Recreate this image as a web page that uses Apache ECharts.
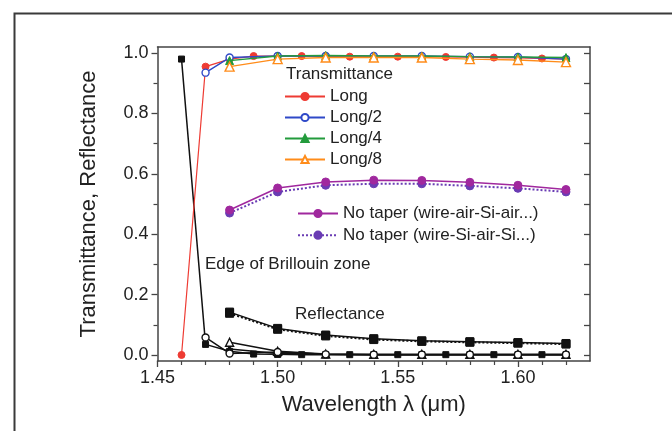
<!DOCTYPE html>
<html>
<head>
<meta charset="utf-8">
<script src="https://cdn.jsdelivr.net/npm/echarts@6/dist/echarts.min.js"></script>
<style>
html,body{margin:0;padding:0;background:#fff;}
#c{width:672px;height:431px;}
</style>
</head>
<body>
<div id="c"></div>
<script>
// ---- data ----
const wlAll = [1.46,1.47,1.48,1.49,1.50,1.51,1.52,1.53,1.54,1.55,1.56,1.57,1.58,1.59,1.60,1.61,1.62];
const wlLong2 = [1.47,1.48,1.50,1.52,1.54,1.56,1.58,1.60,1.62];
const wlEven = [1.48,1.50,1.52,1.54,1.56,1.58,1.60,1.62];

const tLong   = [0.0,0.955,0.98,0.99,0.99,0.99,0.99,0.988,0.988,0.988,0.988,0.987,0.986,0.985,0.984,0.982,0.98];
const tLong2  = [0.935,0.985,0.99,0.99,0.99,0.99,0.988,0.987,0.98];
const tLong4  = [0.975,0.99,0.992,0.99,0.99,0.988,0.987,0.985];
const tLong8  = [0.955,0.98,0.985,0.985,0.985,0.98,0.977,0.97];
const tNoTaperA = [0.48,0.553,0.573,0.579,0.578,0.572,0.562,0.548];
const tNoTaperB = [0.47,0.54,0.562,0.567,0.567,0.56,0.552,0.54];

const rLong   = [0.98,0.035,0.012,0.003,0.002,0.001,0.001,0.001,0.001,0.001,0.001,0.001,0.001,0.001,0.001,0.001,0.001];
const rLong2  = [0.058,0.005,0.01,0.002,0.001,0.001,0.001,0.001,0.001];
const rLong4  = [0.02,0.005,0.002,0.001,0.001,0.001,0.001,0.001];
const rLong8  = [0.042,0.012,0.003,0.002,0.002,0.002,0.002,0.002];
const rNoTaperA = [0.142,0.088,0.066,0.054,0.047,0.044,0.041,0.038];
const rNoTaperB = [0.138,0.085,0.063,0.051,0.045,0.042,0.039,0.036];

const xMajor = [1.45,1.50,1.55,1.60];
const xMinor = [1.46,1.47,1.48,1.49,1.51,1.52,1.53,1.54,1.56,1.57,1.58,1.59,1.61,1.62];
const yMajor = [0,0.2,0.4,0.6,0.8,1.0];
const yMinor = [0.1,0.3,0.5,0.7,0.9];
const yAll = [0,0.1,0.2,0.3,0.4,0.5,0.6,0.7,0.8,0.9,1.0];

const legend1 = ['Long','Long/2','Long/4','Long/8'];
const legend2 = ['No taper (wire-air-Si-air...)','No taper (wire-Si-air-Si...)'];

// ---- helpers ----
const pair = (xs, ys) => xs.map((x,i)=>[x, ys[i]]);
const FONT = 'Liberation Sans';
const AX = '#444';

function line(name, xs, ys, color, symbol, open, size, dash, width, z){
  return {
    name, type:'line', data: pair(xs,ys), symbol, symbolSize: size,
    showSymbol:true, z: z||2,
    lineStyle:{color, width: width||1.4, type: dash||'solid'},
    itemStyle: open ? {color:'#fff', borderColor:color, borderWidth:1.4}
                    : {color, borderColor:color, borderWidth:1},
    emphasis:{disabled:true}, animation:false
  };
}

const chart = echarts.init(document.getElementById('c'), null, {renderer:'canvas'});
const xCommon = {type:'value', min:1.45, max:1.63, gridIndex:0};
const yCommon = {type:'value', min:-0.02, max:1.02, gridIndex:0};

chart.setOption({
  animation:false,
  backgroundColor:'#fff',
  textStyle:{fontFamily:FONT},
  grid:{left:157.5, right:82, top:47, bottom:70, containLabel:false},
  xAxis:[
    Object.assign({}, xCommon, {
      position:'bottom',
      name:'Wavelength λ (μm)', nameLocation:'middle', nameGap:33,
      nameTextStyle:{fontSize:22, color:'#222', fontFamily:FONT},
      axisLine:{show:true, onZero:false, lineStyle:{color:AX, width:1.5}},
      axisTick:{show:true, inside:false, length:6, customValues:xMajor, lineStyle:{color:AX, width:1.3}},
      axisLabel:{show:true, customValues:xMajor, margin:8, fontSize:18, color:'#222', fontFamily:FONT,
                 formatter:v=>v.toFixed(2)},
      splitLine:{show:false}
    }),
    Object.assign({}, xCommon, {
      position:'bottom',
      axisLine:{show:false, onZero:false},
      axisTick:{show:true, inside:false, length:4, customValues:xMinor, lineStyle:{color:AX, width:1.2}},
      axisLabel:{show:false}, splitLine:{show:false}
    }),
    Object.assign({}, xCommon, {
      position:'top',
      axisLine:{show:true, onZero:false, lineStyle:{color:AX, width:1.5}},
      axisTick:{show:false}, axisLabel:{show:false}, splitLine:{show:false}
    })
  ],
  yAxis:[
    Object.assign({}, yCommon, {
      position:'left',
      name:'Transmittance, Reflectance', nameLocation:'middle', nameGap:58, nameRotate:90,
      nameTextStyle:{fontSize:22, color:'#222', fontFamily:FONT},
      axisLine:{show:true, onZero:false, lineStyle:{color:AX, width:1.5}},
      axisTick:{show:true, inside:false, length:6, customValues:yMajor, lineStyle:{color:AX, width:1.3}},
      axisLabel:{show:true, customValues:yMajor, margin:9, fontSize:18, color:'#222', fontFamily:FONT,
                 formatter:v=>v.toFixed(1)},
      splitLine:{show:false}
    }),
    Object.assign({}, yCommon, {
      position:'left',
      axisLine:{show:false, onZero:false},
      axisTick:{show:true, inside:false, length:4, customValues:yMinor, lineStyle:{color:AX, width:1.2}},
      axisLabel:{show:false}, splitLine:{show:false}
    }),
    Object.assign({}, yCommon, {
      position:'right',
      axisLine:{show:true, onZero:false, lineStyle:{color:AX, width:1.5}},
      axisTick:{show:true, inside:true, length:6, customValues:yAll, lineStyle:{color:AX, width:1.3}},
      axisLabel:{show:false}, splitLine:{show:false}
    })
  ],
  legend:[
    {data:legend1, orient:'vertical', left:284, top:88, padding:0,
     itemWidth:40, itemHeight:9, itemGap:4, selectedMode:false,
     textStyle:{fontSize:17, color:'#222', fontFamily:FONT, lineHeight:17}},
    {data:legend2, orient:'vertical', left:297, top:205, padding:0,
     itemWidth:40, itemHeight:9, itemGap:4.7, selectedMode:false,
     textStyle:{fontSize:17, color:'#222', fontFamily:FONT, lineHeight:17}}
  ],
  graphic:[
    {type:'rect', left:12, top:11, shape:{width:720, height:480},
     style:{fill:'none', stroke:'#3a3a3a', lineWidth:2}, silent:true},
    {type:'text', left:286, top:66, style:{text:'Transmittance', fontSize:17, fill:'#222', fontFamily:FONT}},
    {type:'text', left:205, top:256, style:{text:'Edge of Brillouin zone', fontSize:17, fill:'#222', fontFamily:FONT}},
    {type:'text', left:295, top:306, style:{text:'Reflectance', fontSize:17, fill:'#222', fontFamily:FONT}}
  ],
  series:[
    line('R Long/4', wlEven, rLong4, '#111', 'triangle', false, 7, 'solid', 1.5, 3),
    line('R Long/8', wlEven, rLong8, '#111', 'triangle', true, 8, 'solid', 1.5, 3),
    line('R Long', wlAll, rLong, '#111', 'rect', false, 6, 'solid', 1.5, 3),
    line('R Long/2', wlLong2, rLong2, '#111', 'circle', true, 7, 'solid', 1.5, 3),
    line('R No taper A', wlEven, rNoTaperA, '#111', 'rect', false, 8, 'solid', 1.5, 3),
    line('R No taper B', wlEven, rNoTaperB, '#111', 'rect', false, 8, [2,2], 2, 3),
    line(legend2[1], wlEven, tNoTaperB, '#6a3cb4', 'circle', false, 8, [2,2], 2, 4),
    line(legend2[0], wlEven, tNoTaperA, '#a0289e', 'circle', false, 8, 'solid', 1.5, 4),
    line('Long', wlAll, tLong, '#ee3b33', 'circle', false, 7, 'solid', 1.2, 5),
    line('Long/2', wlLong2, tLong2, '#2f49c8', 'circle', true, 7, 'solid', 1.4, 6),
    line('Long/4', wlEven, tLong4, '#239b3c', 'triangle', false, 8, 'solid', 1.4, 7),
    line('Long/8', wlEven, tLong8, '#ff8c1a', 'triangle', true, 9, 'solid', 1.4, 8)
  ]
});
</script>
</body>
</html>
